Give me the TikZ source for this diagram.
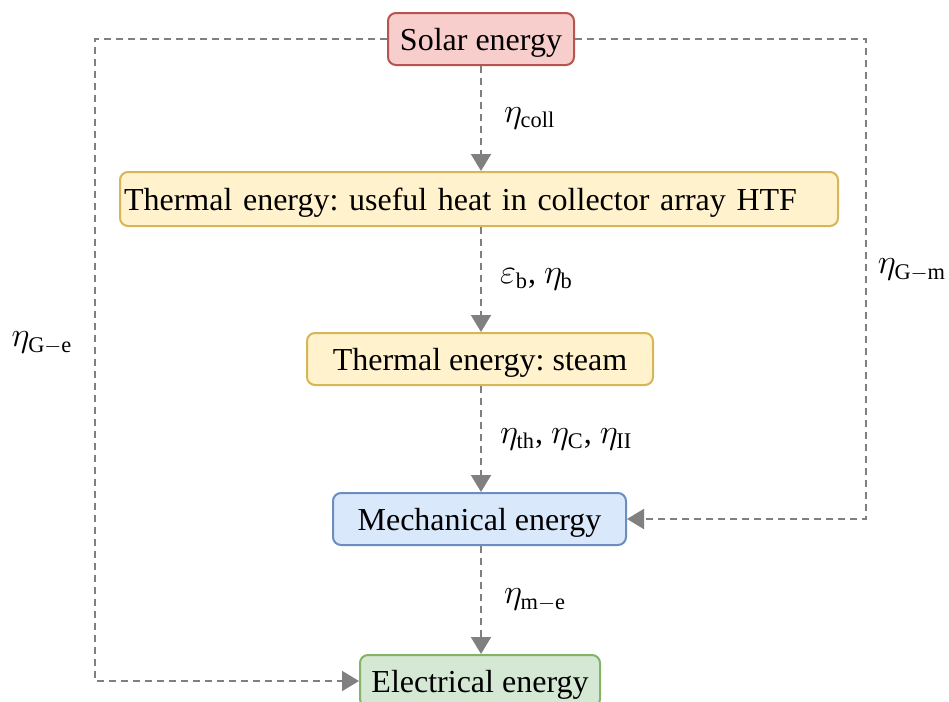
\documentclass[tikz,border=0pt]{standalone}
\usepackage{amsmath,amssymb}
\usepackage{fontspec}
\setmainfont{Liberation Serif}
\usepackage{tikz}
\usetikzlibrary{arrows.meta,positioning,calc}
\definecolor{solarfill}{HTML}{F8CECC}
\definecolor{solarline}{HTML}{B85450}
\definecolor{heatfill}{HTML}{FFF2CC}
\definecolor{heatline}{HTML}{D6B656}
\definecolor{mechfill}{HTML}{DAE8FC}
\definecolor{mechline}{HTML}{6C8EBF}
\definecolor{elecfill}{HTML}{D5E8D4}
\definecolor{elecline}{HTML}{82B366}
\definecolor{flowgray}{HTML}{808080}
\newcommand{\effsub}[2]{$#1_{\mathrm{#2}}$}
\frenchspacing

\begin{document}
\begin{tikzpicture}[x=0.5pt,y=-0.5pt,
    box/.style={draw,line width=1pt,rounded corners=4pt,minimum height=26pt,inner sep=0pt,
                text depth=0pt,font=\fontsize{16}{19}\selectfont},
    flow/.style={draw=flowgray,line width=1pt,dash pattern=on 3.5pt off 2.5pt,
                 -{Triangle[length=8.5pt,width=10pt,fill=flowgray]}},
    lbl/.style={font=\fontsize{16}{19}\selectfont,inner sep=0pt}]
    \useasboundingbox (0,0) rectangle (949,702);
	  % energy chain
    \node[box,fill=solarfill,draw=solarline,minimum width=93pt] (solar) at (481,39) {Solar energy};
    \node[box,fill=heatfill,draw=heatline,minimum width=359pt,text width=355pt,align=left,minimum height=27pt] (htf) at (479,199) {Thermal energy: useful heat in collector array HTF};
    \node[box,fill=heatfill,draw=heatline,minimum width=173pt] (steam) at (480,359) {Thermal energy: steam};
    \node[box,fill=mechfill,draw=mechline,minimum width=146.5pt] (mech) at (479.5,519) {Mechanical energy};
    \node[box,fill=elecfill,draw=elecline,minimum width=120pt] (elec) at (480,681) {Electrical energy};
    \draw[flow] (solar.south) -- (solar.south |- htf.north) node[midway,right=11pt,lbl] {\effsub{\eta}{coll}};
    \draw[flow] (htf.south -| solar.south) -- (solar.south |- steam.north) node[midway,right=9pt,lbl] {$\varepsilon_{\mathrm{b}}$, $\eta_{\mathrm{b}}$};
    \draw[flow] (steam.south -| solar.south) -- (solar.south |- mech.north) node[midway,right=9pt,lbl] {$\eta_{\mathrm{th}}$, $\eta_{\mathrm{C}}$, $\eta_{\mathrm{II}}$};
    \draw[flow] (mech.south -| solar.south) -- (solar.south |- elec.north) node[midway,right=11pt,lbl] {\effsub{\eta}{m{-}e}};
	  % bypass loops
    \coordinate (leftc) at (95,681);
    \coordinate (rightc) at (866,519);
    \draw[flow] (solar.west) -| (leftc) -- (elec.west);
    \draw[flow] (solar.east) -| (rightc) -- (mech.east);
    \node[lbl] (ge) at (42,343) {\effsub{\eta}{G{-}e}};
    \node[lbl] (gm) at (912,270) {\effsub{\eta}{G{-}m}};
\end{tikzpicture}
\end{document}
